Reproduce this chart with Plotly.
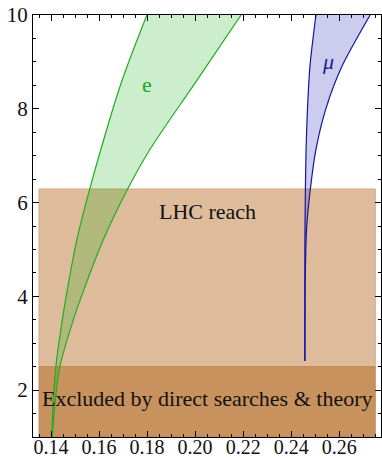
import plotly.graph_objects as go

# Bounds of the shaded regions (x range, y range)
lhc_x = [0.135, 0.275]
lhc_y = [2.5, 6.29]
excl_x = [0.135, 0.275]
excl_y = [1.0, 2.5]

# Electron band: left and right boundary curves
e_left_y = [1.0, 1.787, 2.491, 3.429, 4.133, 5.2, 6.288, 7.12, 8.549, 10.0]
e_left_x = [0.14033, 0.14096, 0.14199, 0.14449, 0.14677, 0.15072, 0.15612, 0.16069, 0.16921, 0.17993]
e_right_y = [1.0, 1.787, 2.491, 3.429, 4.133, 5.2, 6.288, 7.12, 8.549, 10.0]
e_right_x = [0.14054, 0.14179, 0.14366, 0.14885, 0.15363, 0.16173, 0.17191, 0.18105, 0.19996, 0.21915]

# Muon band: left and right boundary curves
mu_left_y = [2.62, 5.0, 6.21, 7.13, 8.01, 8.90, 10.0]
mu_left_x = [0.2457, 0.2457, 0.2459, 0.2462, 0.2468, 0.2478, 0.2503]
mu_right_y = [2.62, 4.5, 5.43, 6.21, 7.13, 8.01, 8.90, 10.0]
mu_right_x = [0.2457, 0.2459, 0.2464, 0.2478, 0.2503, 0.2545, 0.2611, 0.2729]

x_ticks = [0.14, 0.16, 0.18, 0.20, 0.22, 0.24, 0.26]
x_ticktext = ["0.14", "0.16", "0.18", "0.20", "0.22", "0.24", "0.26"]
y_ticks = [2, 4, 6, 8, 10]

SERIF = "Liberation Serif"

def box(xs, ys):
    return [xs[0], xs[1], xs[1], xs[0], xs[0]], [ys[0], ys[0], ys[1], ys[1], ys[0]]

fig = go.Figure()

bx, by = box(lhc_x, lhc_y)
fig.add_trace(go.Scatter(x=bx, y=by, fill="toself", fillcolor="#DEBC9B",
                         mode="lines", line=dict(color="#D2A985", width=1),
                         hoverinfo="skip", showlegend=False))
bx, by = box(excl_x, excl_y)
fig.add_trace(go.Scatter(x=bx, y=by, fill="toself", fillcolor="#C8925F",
                         mode="lines", line=dict(color="#BF8755", width=1),
                         hoverinfo="skip", showlegend=False))

green = "#1FAE1F"
blue = "#1414AA"
fig.add_trace(go.Scatter(x=e_left_x, y=e_left_y, mode="lines",
                         line=dict(color=green, width=1.2, shape="spline", smoothing=1),
                         hoverinfo="skip", showlegend=False))
fig.add_trace(go.Scatter(x=e_right_x, y=e_right_y, mode="lines", fill="tonexty",
                         fillcolor="rgba(0,170,0,0.2)",
                         line=dict(color=green, width=1.2, shape="spline", smoothing=1),
                         hoverinfo="skip", showlegend=False))
fig.add_trace(go.Scatter(x=mu_left_x, y=mu_left_y, mode="lines",
                         line=dict(color=blue, width=1.2, shape="spline", smoothing=0.8),
                         hoverinfo="skip", showlegend=False))
fig.add_trace(go.Scatter(x=mu_right_x, y=mu_right_y, mode="lines", fill="tonexty",
                         fillcolor="rgba(0,0,170,0.2)",
                         line=dict(color=blue, width=1.2, shape="spline", smoothing=0.8),
                         hoverinfo="skip", showlegend=False))

fig.add_annotation(x=0.2052, y=5.82, text="LHC reach", showarrow=False,
                   font=dict(family=SERIF, size=22, color="#111"))
fig.add_annotation(x=0.2048, y=1.82, text="Excluded by direct searches &amp; theory",
                   showarrow=False, font=dict(family=SERIF, size=22, color="#111"))
fig.add_annotation(x=0.1799, y=8.51, text="e", showarrow=False,
                   font=dict(family=SERIF, size=22, color="#1AA81A"))
fig.add_annotation(x=0.2555, y=9.0, text="<i>μ</i>", showarrow=False,
                   font=dict(family=SERIF, size=22, color="#1A1A9A"))

axis_common = dict(showline=True, linecolor="black", linewidth=1, mirror="allticks",
                   ticks="inside", ticklen=6, tickcolor="black", tickwidth=1,
                   showgrid=False, zeroline=False, automargin=False,
                   tickfont=dict(family=SERIF, size=21, color="#111"))

fig.update_xaxes(range=[0.1325, 0.2774], tickvals=x_ticks, ticktext=x_ticktext,
                 ticklabelstandoff=-8,
                 minor=dict(dtick=0.005, tick0=0.135, ticks="inside", ticklen=3,
                            tickcolor="black", showgrid=False),
                 **axis_common)
fig.update_xaxes(tickfont=dict(family=SERIF, size=20, color="#111"))
fig.update_yaxes(range=[1, 10], tickvals=y_ticks,
                 minor=dict(dtick=0.5, tick0=0, ticks="inside", ticklen=3,
                            tickcolor="black", showgrid=False),
                 **axis_common)

fig.update_layout(width=382, height=460, margin=dict(l=33, r=1, t=15, b=23),
                  plot_bgcolor="white", paper_bgcolor="white")

fig.write_html("out.html")
